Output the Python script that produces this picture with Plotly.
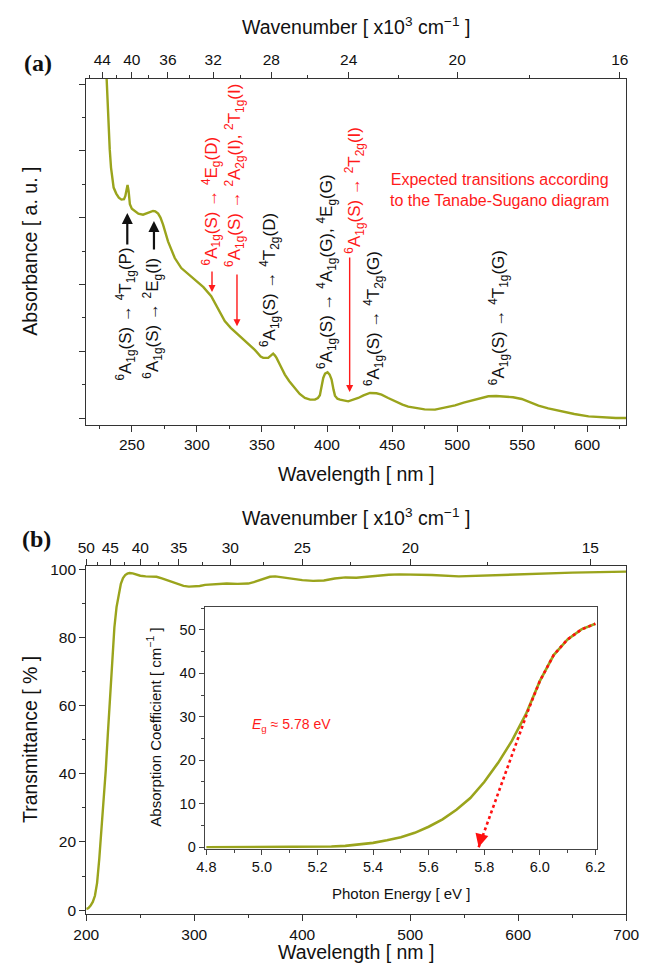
import plotly.graph_objects as go

W, H = 650, 969

# ---------------- Panel (a): absorbance ----------------
wl_abs = [228, 230, 231, 232, 233, 234, 235, 236, 238, 240, 242, 244, 245, 246, 246.7, 247.5, 248.5,
          250, 252, 255, 258.6, 262.5, 266.3, 268, 270.2, 272, 274, 277.8, 283, 288, 293, 298, 305,
          311, 316, 321.4, 326, 331.7, 338, 344.5, 349, 351, 354.8, 357, 358.6, 360, 361.2, 364,
          367.6, 371, 375.3, 379, 383, 387, 390.7, 393, 394.5, 396, 397.1, 398.5, 400.4, 402,
          403.5, 405, 406.1, 408, 410, 416.3, 420, 424, 428, 433, 438, 441.9, 447, 452, 458,
          462.4, 467.6, 475, 483, 490, 498.4, 505, 511.2, 518, 524, 530, 537, 543, 549.6, 556,
          562.5, 570, 580.4, 590, 601, 613.8, 622, 630]
absorb = [12.5, 10.8, 9.6, 8.7, 8.05, 7.5, 7.15, 6.9, 6.72, 6.6, 6.54, 6.55, 6.65, 6.9, 6.98, 6.8, 6.4,
          6.27, 6.2, 6.12, 6.09, 6.14, 6.2, 6.19, 6.12, 6.0, 5.79, 5.29, 4.79, 4.49, 4.32, 4.17, 3.92,
          3.65, 3.3, 2.9, 2.7, 2.5, 2.27, 2.04, 1.84, 1.80, 1.80, 1.88, 1.93, 1.87, 1.80, 1.58,
          1.30, 1.10, 0.90, 0.72, 0.60, 0.55, 0.55, 0.60, 0.68, 0.95, 1.2, 1.33, 1.37, 1.3,
          1.15, 0.85, 0.67, 0.58, 0.55, 0.50, 0.54, 0.60, 0.68, 0.75, 0.74, 0.70, 0.60, 0.50, 0.40,
          0.34, 0.30, 0.26, 0.25, 0.30, 0.38, 0.46, 0.52, 0.60, 0.65, 0.66, 0.65, 0.62, 0.57, 0.47,
          0.37, 0.29, 0.20, 0.12, 0.05, 0.01, 0.0, 0.0]

# ---------------- Panel (b): transmittance ----------------
wl_trans = [200, 202, 204, 206, 208, 210, 212, 214, 216, 218, 220, 222, 224, 226, 228, 230, 232, 234,
            236, 238, 240, 243, 246, 250, 255, 260, 265, 270, 275, 280, 285, 290, 295, 300, 305, 310,
            320, 330, 340, 350, 355, 360, 365, 370, 375, 380, 390, 400, 410, 420, 430, 440, 450, 460,
            470, 480, 490, 500, 520, 545, 570, 600, 650, 700]
trans = [0.3, 0.6, 1.3, 2.4, 4.2, 8, 15, 23.5, 32, 41, 52, 63, 74, 83, 89, 93, 95.8, 97.5,
         98.4, 98.8, 99.0, 98.9, 98.6, 98.2, 98.0, 98.0, 97.9, 97.4, 96.8, 96.2, 95.6, 95.2, 95.0, 95.0, 95.2, 95.5,
         95.8, 95.9, 95.8, 95.9, 96.3, 96.9, 97.5, 97.9, 98.0, 97.8, 97.2, 96.9, 96.7, 96.8, 97.4, 97.7, 97.6, 97.9,
         98.3, 98.5, 98.6, 98.6, 98.4, 98.0, 98.3, 98.7, 99.1, 99.4]

# ---------------- Inset: absorption coefficient ----------------
energy = [4.8, 4.9, 5.0, 5.1, 5.2, 5.25, 5.3, 5.35, 5.4, 5.45, 5.5, 5.55, 5.6, 5.65, 5.7, 5.75,
          5.8, 5.85, 5.9, 5.95, 6.0, 6.05, 6.1, 6.15, 6.2]
alpha = [0.0, 0.0, 0.0, 0.0, 0.05, 0.15, 0.3, 0.6, 1.0, 1.6, 2.3, 3.3, 4.7, 6.4, 8.6, 11.3,
         15.0, 19.4, 24.5, 30.6, 38.2, 44.2, 47.8, 50.1, 51.4]
fit_energy = [5.78, 5.96, 6.0, 6.05, 6.1, 6.15, 6.2]
fit_alpha = [0.0, 31.8, 38.2, 44.2, 47.8, 50.1, 51.4]
gap_energy = 5.78

# wavenumber ticks (x10^3 cm^-1)
wn_a_major = [44, 40, 36, 32, 28, 24, 20, 16]
wn_a_minor = [46, 42, 38, 34, 30, 26, 22, 18]
wn_b_major = [50, 45, 40, 35, 30, 25, 20, 15]
wn_b_minor = [47.5, 42.5, 37.5, 32.5, 27.5, 22.5, 17.5]


def wn_to_nm(k):
    return 1e7 / (k * 1000.0)


def px(x):
    return x / W


def py(y):
    return 1 - y / H


OLIVE = "#9aa41c"
AXC = "#333333"
FONT = "Liberation Sans, Arial, sans-serif"

fig = go.Figure()
fig.add_trace(go.Scatter(x=wl_abs, y=absorb, mode="lines", line=dict(color=OLIVE, width=2.4),
                         xaxis="x", yaxis="y", showlegend=False))
fig.add_trace(go.Scatter(x=wl_abs, y=absorb, mode="lines", opacity=0, hoverinfo="skip",
                         xaxis="x2", yaxis="y", showlegend=False))
fig.add_trace(go.Scatter(x=wl_trans, y=trans, mode="lines", line=dict(color=OLIVE, width=2.4),
                         xaxis="x3", yaxis="y2", showlegend=False))
fig.add_trace(go.Scatter(x=wl_trans, y=trans, mode="lines", opacity=0, hoverinfo="skip",
                         xaxis="x4", yaxis="y2", showlegend=False))
fig.add_trace(go.Scatter(x=energy, y=alpha, mode="lines", line=dict(color=OLIVE, width=2.6),
                         xaxis="x5", yaxis="y3", showlegend=False))
fig.add_trace(go.Scatter(x=fit_energy, y=fit_alpha, mode="lines",
                         line=dict(color="#ff1010", width=2.6, dash="dot"),
                         xaxis="x5", yaxis="y3", showlegend=False))

xdom = [px(78.3), px(618.3)]
ydom_a = [py(416.7), py(70.7)]
ydom_b = [py(906), py(558.3)]
xdom_in = [px(196.7), px(589.3)]
ydom_in = [py(840.5), py(598.8)]

common = dict(showline=True, linecolor=AXC, linewidth=1.3, ticks="outside", tickcolor=AXC,
              tickwidth=1.2, ticklen=6, showgrid=False, zeroline=False, automargin=False,
              tickfont=dict(family=FONT, size=15.5, color="#111"))
minor_common = dict(ticks="outside", ticklen=3, tickcolor=AXC, tickwidth=1.2, showgrid=False)
inset_common = dict(mirror=True, showline=True, linecolor="#444", linewidth=1.1, ticks="outside",
                    tickcolor="#444", ticklen=5, showgrid=False, zeroline=False, automargin=False,
                    tickfont=dict(family=FONT, size=14.5, color="#111"))

fig.update_layout(
    template="none",
    width=W, height=H, margin=dict(l=0, r=0, t=0, b=0, autoexpand=False),
    paper_bgcolor="white", plot_bgcolor="white", showlegend=False,
    font=dict(family=FONT, color="#111"),
    xaxis=dict(domain=xdom, anchor="y", range=[215, 630], tick0=0, dtick=50, mirror=True,
               minor=dict(dtick=25, **minor_common), **common),
    xaxis2=dict(domain=xdom, anchor="y", overlaying="x", side="top", range=[215, 630],
                tickmode="array", tickvals=[wn_to_nm(k) for k in wn_a_major],
                ticktext=[str(k) for k in wn_a_major],
                minor=dict(tickmode="array", tickvals=[wn_to_nm(k) for k in wn_a_minor], **minor_common),
                **common),
    yaxis=dict(domain=ydom_a, anchor="x", range=[-0.2, 10.16], tick0=0, dtick=2, showticklabels=False,
               mirror=True, minor=dict(dtick=1, **minor_common), **common),
    xaxis3=dict(domain=xdom, anchor="y2", range=[200, 700], tick0=0, dtick=100, mirror=True,
                minor=dict(dtick=50, **minor_common), **common),
    xaxis4=dict(domain=xdom, anchor="y2", overlaying="x3", side="top", range=[200, 700],
                tickmode="array", tickvals=[wn_to_nm(k) for k in wn_b_major],
                ticktext=[str(k) for k in wn_b_major],
                minor=dict(tickmode="array", tickvals=[wn_to_nm(k) for k in wn_b_minor], **minor_common),
                **common),
    yaxis2=dict(domain=ydom_b, anchor="x3", range=[-1.15, 100.97], tick0=0, dtick=20, mirror=True,
                minor=dict(dtick=10, **minor_common), **common),
    xaxis5=dict(domain=xdom_in, anchor="y3", range=[4.794, 6.207], tick0=0, dtick=0.2, tickformat=".1f",
                minor=dict(dtick=0.1, ticks="outside", ticklen=3, tickcolor="#444", showgrid=False),
                **inset_common),
    yaxis3=dict(domain=ydom_in, anchor="x5", range=[-0.3, 55.3], tick0=0, dtick=10,
                minor=dict(dtick=5, ticks="outside", ticklen=3, tickcolor="#444", showgrid=False),
                **inset_common),
)

ann = []


def paper_text(text, x, y, size, angle=0, color="#111", family=FONT):
    ann.append(dict(text=text, x=px(x), y=py(y), xref="paper", yref="paper", showarrow=False,
                    xanchor="center", yanchor="middle", textangle=angle,
                    font=dict(family=family, size=size, color=color)))


# axis titles
paper_text("Wavenumber [ x10<sup>3</sup> cm<sup>−1</sup> ]", 348.3, 18, 19.5)
paper_text("Wavelength [ nm ]", 348.3, 466, 19.5)
paper_text("Absorbance [ a. u. ]", 22, 243.7, 19.5, angle=-90)
paper_text("Wavenumber [ x10<sup>3</sup> cm<sup>−1</sup> ]", 348.3, 509, 19.5)
paper_text("Wavelength [ nm ]", 348.3, 944, 19.5)
paper_text("Transmittance [ % ]", 22, 732, 19.5, angle=-90)
paper_text("Photon Energy [ eV ]", 393, 885, 15)
paper_text("Absorption Coefficient [ cm<sup>−1</sup> ]", 146, 719.7, 15, angle=-90)
paper_text("<b>(a)</b>", 30, 55, 24, family="Liberation Serif, Times New Roman, serif")
paper_text("<b>(b)</b>", 28, 531, 24, family="Liberation Serif, Times New Roman, serif")

A = "<sup>6</sup>A<sub>1g</sub>(S) → "
RED = "#ff1a1a"


def rot(text, x, y, color="#111", size=17):
    ann.append(dict(text=text, x=x, y=y, xref="x", yref="y", showarrow=False, textangle=-90,
                    xanchor="center", yanchor="middle", font=dict(family=FONT, size=size, color=color)))


def arrow(x, y_tail, y_head, color, width, head=2, size=1.0):
    ann.append(dict(text="", x=x, y=y_head, ax=x, ay=y_tail, xref="x", yref="y", axref="x", ayref="y",
                    showarrow=True, arrowhead=head, arrowsize=size, arrowwidth=width, arrowcolor=color))


rot(A + "<sup>4</sup>T<sub>1g</sub>(P)", 245.1, 3.11)
arrow(246.5, 5.15, 6.14, "#111", 2.2)
rot(A + "<sup>2</sup>E<sub>g</sub>(I)", 265.9, 2.99)
arrow(267.0, 5.0, 5.9, "#111", 2.2)
rot(A + "<sup>4</sup>E<sub>g</sub>(D)", 311.2, 6.50, color=RED)
arrow(311.6, 4.43, 3.77, RED, 1.4)
rot(A + "<sup>2</sup>A<sub>2g</sub>(I), <sup>2</sup>T<sub>1g</sub>(I)", 329.3, 7.25, color=RED)
arrow(330.8, 4.34, 2.75, RED, 1.4)
rot(A + "<sup>4</sup>T<sub>2g</sub>(D)", 355.4, 4.13)
rot(A + "<sup>4</sup>A<sub>1g</sub>(G), <sup>4</sup>E<sub>g</sub>(G)", 399.2, 4.40)
rot(A + "<sup>2</sup>T<sub>2g</sub>(I)", 421.3, 6.83, color=RED)
arrow(417.4, 4.85, 0.78, RED, 1.4)
rot(A + "<sup>4</sup>T<sub>2g</sub>(G)", 435.3, 2.99)
rot(A + "<sup>4</sup>T<sub>1g</sub>(G)", 531.4, 2.99)

ann.append(dict(text="Expected transitions according<br>to the Tanabe-Sugano diagram",
                x=532.2, y=6.84, xref="x", yref="y", showarrow=False, xanchor="center", yanchor="middle",
                align="center", font=dict(family=FONT, size=16, color=RED)))

# inset annotations
ann.append(dict(text="<i>E</i><sub>g</sub> ≈ %.2f eV" % gap_energy, x=5.107, y=28.1, xref="x5", yref="y3",
                showarrow=False, xanchor="center", yanchor="middle",
                font=dict(family=FONT, size=14, color=RED)))
ann.append(dict(text="", x=gap_energy, y=0.0, ax=gap_energy + 0.012, ay=3.0, xref="x5", yref="y3",
                axref="x5", ayref="y3", showarrow=True, arrowhead=2, arrowsize=1.1, arrowwidth=2.4,
                arrowcolor="#ff1010"))

fig.update_layout(annotations=ann)
fig.write_html("out.html")
